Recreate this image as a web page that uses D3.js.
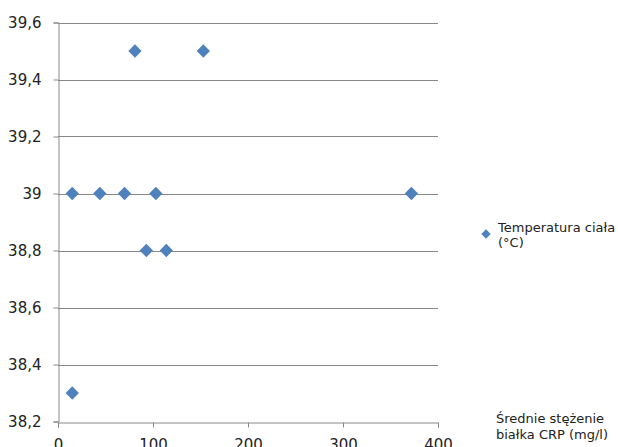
<!DOCTYPE html>
<html><head><meta charset="utf-8">
<script src="https://cdn.jsdelivr.net/npm/d3@7"></script>
<style>body{margin:0;background:#fff;overflow:hidden}svg{display:block}</style>
</head><body>
<svg id="c" width="618" height="447"></svg>
<script>
const crpValues = [15, 44, 70, 103, 372, 81, 153, 93, 114, 15];
const tempValues = [39.0, 39.0, 39.0, 39.0, 39.0, 39.5, 39.5, 38.8, 38.8, 38.3];
const xTicks = [0, 100, 200, 300, 400];
const yTicks = [38.2, 38.4, 38.6, 38.8, 39.0, 39.2, 39.4, 39.6];
const seriesName = ["Temperatura ciała", "(°C)"];
const xTitle = ["Średnie stężenie", "białka CRP (mg/l)"];

const svg = d3.select("#c");
const font = "'DejaVu Sans', Verdana, sans-serif";
const x = d3.scaleLinear().domain([0, 400]).range([58, 438]);
const y = d3.scaleLinear().domain([38.2, 39.6]).range([421.5, 22.5]);
const fmt = d => d3.format(".1f")(d).replace(".", ",").replace(",0", "");
const gridColor = "#888";

// grid
svg.append("g").selectAll("line").data(yTicks.slice(1)).join("line")
  .attr("x1", x(0)).attr("x2", x(400))
  .attr("y1", d => Math.round(y(d)) + 0.5).attr("y2", d => Math.round(y(d)) + 0.5)
  .attr("stroke", gridColor).attr("stroke-width", 1);

const yAxis = svg.append("g").attr("transform", `translate(${x(0)+0.5},0)`)
  .call(d3.axisLeft(y).tickValues(yTicks).tickFormat(fmt).tickSize(5).tickPadding(12));
const xAxis = svg.append("g").attr("transform", `translate(0,${Math.round(y(38.2))+0.5})`)
  .call(d3.axisBottom(x).tickValues(xTicks).tickSize(5).tickPadding(12));
[yAxis, xAxis].forEach(a => {
  a.select(".domain").attr("stroke", gridColor);
  a.selectAll(".tick line").attr("stroke", gridColor);
  a.selectAll("text").attr("fill", "#222").style("font-family", font).style("font-size", "15px");
});

svg.append("g").selectAll("path").data(crpValues).join("path")
  .attr("d", d3.symbol().type(d3.symbolSquare).size(88))
  .attr("transform", (d, i) => `translate(${x(d)},${y(tempValues[i])}) rotate(45)`)
  .attr("fill", "#4F81BD");

// legend
svg.append("path").attr("d", d3.symbol().type(d3.symbolSquare).size(44))
  .attr("transform", "translate(486,234) rotate(45)").attr("fill", "#4F81BD");
svg.append("text").attr("x", 498).attr("y", 232).style("font-family", font).style("font-size", "13px").attr("fill", "#222")
  .selectAll("tspan").data(seriesName).join("tspan").attr("x", 498).attr("dy", (d, i) => i ? 15 : 0).text(d => d);

svg.append("text").attr("x", 496).attr("y", 423).style("font-family", font).style("font-size", "13px").attr("fill", "#222")
  .selectAll("tspan").data(xTitle).join("tspan").attr("x", 496).attr("dy", (d, i) => i ? 16 : 0).text(d => d);
</script>
</body></html>
